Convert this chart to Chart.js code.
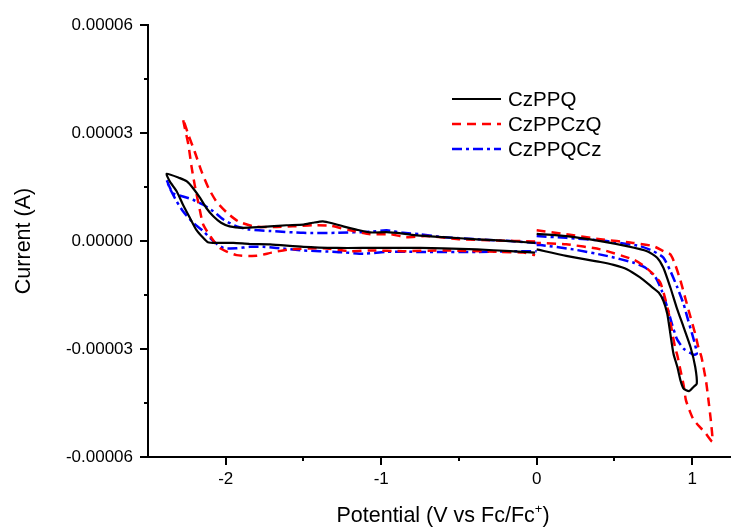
<!DOCTYPE html>
<html>
<head>
<meta charset="utf-8">
<script src="https://cdn.jsdelivr.net/npm/chart.js@4.4.0/dist/chart.umd.min.js"></script>
<style>
  html, body { margin: 0; padding: 0; background: #fff; }
  #wrap { width: 731px; height: 531px; }
</style>
</head>
<body>
<div id="wrap"><canvas id="cvChart" width="731" height="531"></canvas></div>
<script>
// potential in V vs Fc/Fc+, current in microamps (scaled to A when building datasets)
const seriesNames = ['CzPPQ', 'CzPPCzQ', 'CzPPQCz'];
const seriesColors = ['#000000', '#ff0000', '#0000ff'];
const seriesDash = [[], [9, 6], [10, 4, 3, 4]];
const seriesWidth = [2.2, 2.5, 2.5];

// reduction scans (0 V -> -2.4 V -> 0 V)
const czppqRedV = [-0.01, -0.17, -0.385, -0.60, -0.77, -0.86, -0.965, -1.07, -1.16, -1.245, -1.31, -1.375, -1.44, -1.50, -1.61, -1.715, -1.78, -1.89, -1.975, -2.03, -2.08, -2.125, -2.165, -2.21, -2.25, -2.295, -2.38, -2.36, -2.315, -2.275, -2.23, -2.19, -2.145, -2.115, -2.06, -1.95, -1.845, -1.715, -1.50, -1.285, -1.07, -0.75, -0.60, -0.385, -0.17, -0.01];
const czppqRedI = [-0.5, 0, 0.5, 1.1, 1.6, 2.1, 2.5, 2.4, 3.2, 4.1, 4.9, 5.5, 5.1, 4.6, 4.4, 4.1, 3.9, 3.7, 4.1, 5.1, 6.9, 9.2, 12.0, 14.7, 16.6, 17.5, 18.7, 16.6, 13.8, 10.1, 6.4, 3.2, 0.9, -0.3, -0.5, -0.5, -0.8, -0.9, -1.6, -1.9, -1.9, -1.9, -2.0, -2.3, -2.8, -3.2];
const czppczqRedV = [-0.01, -0.28, -0.49, -0.71, -0.84, -0.94, -1.07, -1.20, -1.33, -1.44, -1.57, -1.69, -1.82, -1.92, -1.99, -2.06, -2.11, -2.155, -2.20, -2.24, -2.275, -2.265, -2.24, -2.22, -2.20, -2.165, -2.145, -2.10, -2.04, -1.93, -1.80, -1.705, -1.59, -1.37, -1.20, -1.07, -0.86, -0.60, -0.235, -0.085, -0.01];
const czppczqRedI = [-0.1, 0.2, 0.5, 1.4, 1.1, 1.9, 1.9, 3.0, 4.3, 4.4, 4.1, 3.9, 4.1, 5.5, 7.8, 11.0, 14.7, 19.3, 24.9, 29.5, 34.0, 31.8, 26.7, 20.7, 15.7, 8.3, 4.6, 1.4, -1.9, -3.9, -4.1, -3.2, -2.3, -2.0, -2.8, -2.6, -2.8, -2.6, -3.0, -3.2, -3.9];
const czppqczRedV = [0.00, -0.17, -0.385, -0.60, -0.75, -0.86, -0.965, -1.07, -1.29, -1.50, -1.715, -1.845, -1.93, -2.015, -2.08, -2.145, -2.21, -2.275, -2.34, -2.38, -2.36, -2.315, -2.275, -2.21, -2.145, -2.08, -2.015, -1.93, -1.845, -1.76, -1.675, -1.50, -1.29, -1.115, -0.965, -0.75, -0.385, -0.065, 0.00];
const czppqczRedI = [-0.5, 0, 0.5, 1.1, 1.9, 2.3, 3.0, 2.6, 2.3, 2.3, 2.8, 3.2, 4.1, 6.0, 8.3, 10.1, 11.5, 12.4, 13.3, 17.0, 14.7, 11.0, 8.3, 5.1, 2.8, 0, -1.9, -2.0, -1.6, -1.6, -1.9, -2.6, -3.0, -3.5, -3.0, -3.0, -3.0, -2.8, -2.8];

// oxidation scans (0 V -> ~1.1 V -> 0 V)
const czppqOxV = [0.00, 0.19, 0.41, 0.58, 0.71, 0.775, 0.815, 0.86, 0.90, 0.945, 0.99, 1.02, 1.03, 1.01, 0.98, 0.945, 0.925, 0.905, 0.88, 0.86, 0.84, 0.815, 0.785, 0.74, 0.665, 0.58, 0.495, 0.41, 0.19, 0.00];
const czppqOxI = [2.0, 1.4, 0, -1.4, -2.8, -4.6, -7.4, -12.9, -18.4, -23.9, -29.5, -35.0, -39.6, -40.5, -41.7, -41.0, -38.7, -35.0, -31.3, -25.8, -20.2, -16.6, -14.3, -12.7, -10.1, -7.8, -6.6, -5.8, -4.1, -2.3];
const czppczqOxV = [0.00, 0.19, 0.41, 0.62, 0.75, 0.815, 0.86, 0.89, 0.925, 0.955, 0.99, 1.02, 1.04, 1.06, 1.09, 1.105, 1.12, 1.13, 1.085, 1.055, 1.01, 0.99, 0.96, 0.945, 0.925, 0.905, 0.89, 0.87, 0.85, 0.825, 0.795, 0.75, 0.69, 0.62, 0.41, 0.19, 0.00];
const czppczqOxI = [3.0, 1.9, 0.5, -0.5, -1.4, -2.8, -3.7, -6.4, -11.0, -15.7, -21.2, -25.8, -29.5, -32.2, -39.1, -44.2, -49.7, -55.7, -53.3, -51.9, -49.7, -47.8, -44.2, -40.0, -35.9, -31.8, -29.5, -24.9, -20.2, -15.7, -11.5, -9.2, -6.9, -5.1, -2.3, -0.9, -0.5];
const czppqczOxV = [0.00, 0.19, 0.45, 0.665, 0.75, 0.815, 0.86, 0.905, 0.945, 0.975, 1.00, 1.02, 1.03, 1.01, 0.985, 0.945, 0.915, 0.90, 0.87, 0.84, 0.805, 0.765, 0.70, 0.625, 0.45, 0.235, 0.025, 0.00];
const czppqczOxI = [1.4, 0.9, 0, -1.4, -2.8, -4.6, -8.3, -12.9, -17.5, -22.1, -25.8, -29.0, -31.3, -31.6, -31.0, -29.9, -28.1, -27.0, -23.0, -18.4, -13.8, -10.1, -7.4, -6.0, -4.1, -2.3, -1.1, -1.1];

// axis ticks
const xMajorTicks = [-2, -1, 0, 1];
const xMinorTicks = [-1.5, -0.5, 0.5];
const xTickLabels = ['-2', '-1', '0', '1'];
const yMajorTicks = [-0.00006, -0.00003, 0, 0.00003, 0.00006];
const yMinorTicks = [-0.000045, -0.000015, 0.000015, 0.000045];
const yTickLabels = ['-0.00006', '-0.00003', '0.00000', '0.00003', '0.00006'];

const FONT = "'Liberation Sans', Arial, sans-serif";

function toPoints(redV, redI, oxV, oxI) {
  const pts = redV.map((v, i) => ({ x: v, y: redI[i] * 1e-6 }));
  pts.push({ x: 0, y: null }); // break between the two scans
  oxV.forEach((v, i) => pts.push({ x: v, y: oxI[i] * 1e-6 }));
  return pts;
}

const allPoints = [
  toPoints(czppqRedV, czppqRedI, czppqOxV, czppqOxI),
  toPoints(czppczqRedV, czppczqRedI, czppczqOxV, czppczqOxI),
  toPoints(czppqczRedV, czppqczRedI, czppqczOxV, czppqczOxI)
];

const datasets = seriesNames.map((name, i) => ({
  label: name,
  data: allPoints[i],
  showLine: true,
  borderColor: seriesColors[i],
  borderWidth: seriesWidth[i],
  borderDash: seriesDash[i],
  pointRadius: 0,
  tension: 0.2,
  spanGaps: false
}));

// ticks, titles and legend drawn by hand
const decor = {
  id: 'decor',
  afterDraw(chart) {
    const ctx = chart.ctx;
    const xs = chart.scales.x, ys = chart.scales.y;
    const area = chart.chartArea;
    ctx.save();
    ctx.strokeStyle = '#000';
    ctx.lineWidth = 2;
    ctx.beginPath();
    xMajorTicks.forEach(v => {
      const px = Math.round(xs.getPixelForValue(v));
      ctx.moveTo(px, area.bottom); ctx.lineTo(px, area.bottom + 8);
    });
    xMinorTicks.forEach(v => {
      const px = Math.round(xs.getPixelForValue(v));
      ctx.moveTo(px, area.bottom); ctx.lineTo(px, area.bottom + 4);
    });
    yMajorTicks.forEach(v => {
      const py = Math.round(ys.getPixelForValue(v));
      ctx.moveTo(area.left, py); ctx.lineTo(area.left - 8, py);
    });
    yMinorTicks.forEach(v => {
      const py = Math.round(ys.getPixelForValue(v));
      ctx.moveTo(area.left, py); ctx.lineTo(area.left - 4, py);
    });
    ctx.stroke();

    // axis titles
    ctx.fillStyle = '#000';
    ctx.textBaseline = 'middle';
    const t1 = 'Potential (V vs Fc/Fc', t2 = ')';
    ctx.font = '21.5px ' + FONT;
    const w1 = ctx.measureText(t1).width;
    ctx.font = '13px ' + FONT;
    const wp = ctx.measureText('+').width;
    ctx.font = '21.5px ' + FONT;
    const w2 = ctx.measureText(t2).width;
    const tx = 443 - (w1 + wp + w2) / 2;
    const ty = 516;
    ctx.textAlign = 'left';
    ctx.fillText(t1, tx, ty);
    ctx.font = '13px ' + FONT;
    ctx.fillText('+', tx + w1, ty - 7);
    ctx.font = '21.5px ' + FONT;
    ctx.fillText(t2, tx + w1 + wp, ty);

    ctx.save();
    ctx.translate(24, 241);
    ctx.rotate(-Math.PI / 2);
    ctx.textAlign = 'center';
    ctx.fillText('Current (A)', 0, 0);
    ctx.restore();

    // legend
    const legX = 452, legY = [99, 124, 149];
    ctx.font = '20.5px ' + FONT;
    ctx.textAlign = 'left';
    seriesNames.forEach((name, i) => {
      ctx.strokeStyle = seriesColors[i];
      ctx.lineWidth = seriesWidth[i];
      ctx.setLineDash(seriesDash[i]);
      ctx.beginPath();
      ctx.moveTo(legX, legY[i]);
      ctx.lineTo(legX + 49, legY[i]);
      ctx.stroke();
      ctx.setLineDash([]);
      ctx.fillStyle = '#000';
      ctx.fillText(name, legX + 56, legY[i] + 1);
    });
    ctx.restore();
  }
};

new Chart(document.getElementById('cvChart'), {
  type: 'scatter',
  data: { datasets: datasets },
  options: {
    responsive: false,
    animation: false,
    devicePixelRatio: 1,
    layout: { padding: { top: 23, right: 0, left: 0, bottom: 0 } },
    plugins: { legend: { display: false }, tooltip: { enabled: false } },
    scales: {
      x: {
        type: 'linear',
        min: -2.5,
        max: 1.25,
        afterFit: s => { s.height = 74; },
        afterBuildTicks: s => { s.ticks = xMajorTicks.map(v => ({ value: v })); },
        ticks: {
          padding: 12,
          color: '#000',
          font: { family: FONT, size: 17 },
          callback: (v, i) => xTickLabels[i]
        },
        grid: { display: false, drawTicks: false },
        border: { display: true, color: '#000', width: 2 }
      },
      y: {
        type: 'linear',
        min: -0.00006,
        max: 0.00006,
        afterFit: s => { s.width = 148; },
        afterBuildTicks: s => { s.ticks = yMajorTicks.map(v => ({ value: v })); },
        ticks: {
          padding: 15,
          color: '#000',
          font: { family: FONT, size: 17 },
          callback: (v, i) => yTickLabels[i]
        },
        grid: { display: false, drawTicks: false },
        border: { display: true, color: '#000', width: 2 }
      }
    }
  },
  plugins: [decor]
});
</script>
</body>
</html>
